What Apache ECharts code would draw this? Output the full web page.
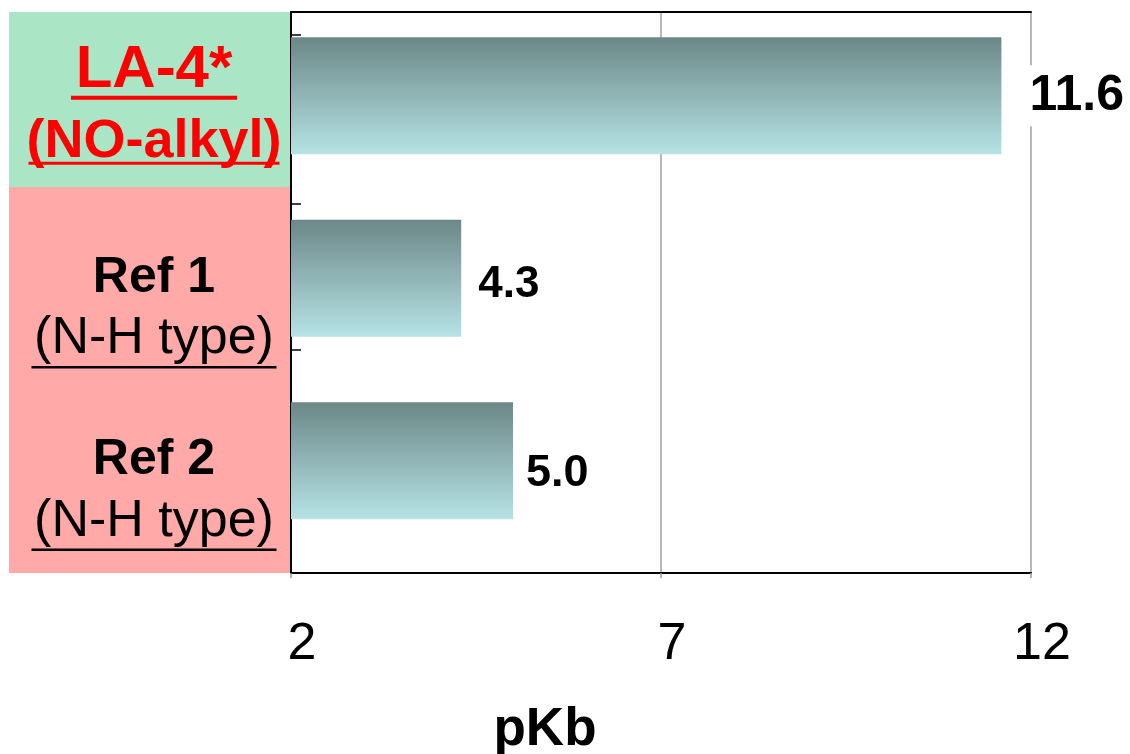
<!DOCTYPE html>
<html><head><meta charset="utf-8">
<script src="https://cdn.jsdelivr.net/npm/echarts@6/dist/echarts.min.js"></script>
<style>html,body{margin:0;padding:0;background:#fff}#c{width:1130px;height:754px}</style>
</head><body><div id="c"></div>
<script>
// ---- data ----
const compoundNames = ['LA-4*', 'Ref 1', 'Ref 2'];
const compoundTypes = ['(NO-alkyl)', '(N-H type)', '(N-H type)'];
const pKbValues = [11.6, 4.3, 5.0];
const xTickValues = [2, 7, 12];
const axisTitle = 'pKb';

// ---- layout / style ----
const FONT = '"Liberation Sans", Arial, sans-serif';
const X_MIN = 2, X_MAX = 12, X_STEP = 5;
const Y_MIN = -0.459, Y_MAX = 2.615;
const Y_TICKS = [-0.333, 0.593, 1.393];
const BAR_H = 117;
const VALUE_LABEL = [{size: 50, dx: 24, dy: 0}, {size: 44, dx: 13, dy: 7}, {size: 45, dx: 9, dy: 13}];
const GRID = {left: 291, top: 12, width: 740, height: 561};

const chart = echarts.init(document.getElementById('c'), null, {renderer: 'canvas'});
const seriesData = pKbValues.map((v, i) => [v, i]);

function labelFor(i) {
  if (i === 0) {
    return '{sp0| }\n{la|' + compoundNames[i] + '}\n{laU| }\n{sp1| }\n{nal|' + compoundTypes[i] + '}\n{nalU| }';
  }
  return '{spR| }\n{ref|' + compoundNames[i] + '}\n{nh|' + compoundTypes[i] + '}\n{nhU| }';
}

const option = {
  backgroundColor: '#ffffff',
  animation: false,
  grid: Object.assign({containLabel: false, outerBoundsMode: 'none'}, GRID),
  xAxis: [{
    type: 'value', min: X_MIN, max: X_MAX, interval: X_STEP, position: 'bottom',
    axisLine: {show: true, onZero: false, lineStyle: {color: '#000', width: 2}},
    axisTick: {show: true, length: 5, lineStyle: {color: '#999', width: 1.5}},
    splitLine: {show: true, lineStyle: {color: '#a0a0a0', width: 1.5}},
    axisLabel: {
      fontFamily: FONT, fontSize: 52, color: '#000', margin: 46, padding: [0, 0, 0, 22],
      hideOverlap: false,
      formatter: v => xTickValues.includes(v) ? String(v) : ''
    },
    name: axisTitle, nameLocation: 'middle', nameGap: 131,
    nameTextStyle: {fontFamily: FONT, fontSize: 53, fontWeight: 'bold', color: '#000', padding: [0, 232, 0, 0]}
  }, {
    type: 'value', min: X_MIN, max: X_MAX, interval: X_STEP, position: 'top',
    axisLine: {show: true, onZero: false, lineStyle: {color: '#000', width: 2}},
    axisTick: {show: false}, axisLabel: {show: false}, splitLine: {show: false}
  }],
  yAxis: {
    type: 'value', inverse: true, min: Y_MIN, max: Y_MAX,
    axisLine: {show: true, onZero: false, lineStyle: {color: '#000', width: 2}},
    axisTick: {show: true, inside: true, length: 10, customValues: Y_TICKS, lineStyle: {color: '#000', width: 1.5}},
    splitLine: {show: false},
    axisLabel: {
      customValues: [0, 1, 2], align: 'center', margin: 137, fontFamily: FONT,
      hideOverlap: false, showMinLabel: true, showMaxLabel: true,
      formatter: v => labelFor(Math.round(v)),
      rich: {
        sp0: {fontSize: 1, height: 18, lineHeight: 18},
        la: {fontFamily: FONT, fontSize: 60, fontWeight: 'bold', color: '#ff0000', lineHeight: 51},
        laU: {fontSize: 1, width: 166, height: 4, lineHeight: 4, backgroundColor: '#ff0000'},
        sp1: {fontSize: 1, height: 22, lineHeight: 22},
        nal: {fontFamily: FONT, fontSize: 54, fontWeight: 'bold', color: '#ff0000', lineHeight: 40},
        nalU: {fontSize: 1, width: 251, height: 3, lineHeight: 3, backgroundColor: '#ff0000'},
        spR: {fontSize: 1, height: 56, lineHeight: 56},
        ref: {fontFamily: FONT, fontSize: 50, fontWeight: 'bold', color: '#000', lineHeight: 68},
        nh: {fontFamily: FONT, fontSize: 52, color: '#000', lineHeight: 54},
        nhU: {fontSize: 1, width: 245, height: 2.5, lineHeight: 3, backgroundColor: '#000'}
      }
    }
  },
  series: [{
    type: 'custom',
    coordinateSystem: 'cartesian2d',
    xAxisIndex: 0, yAxisIndex: 0,
    encode: {x: 0, y: 1},
    data: seriesData,
    z: 3,
    renderItem: function (params, api) {
      const v = api.value(0), idx = api.value(1);
      const start = api.coord([X_MIN, idx]);
      const end = api.coord([v, idx]);
      const lab = VALUE_LABEL[params.dataIndex];
      return {
        type: 'group',
        children: [{
          type: 'rect',
          shape: {x: start[0], y: start[1] - BAR_H / 2, width: end[0] - start[0], height: BAR_H},
          style: {
            fill: new echarts.graphic.LinearGradient(0, 0, 0, 1, [
              {offset: 0, color: '#6c8787'},
              {offset: 1, color: '#b6e3e5'}
            ])
          }
        }, {
          type: 'text',
          x: end[0] + lab.dx, y: end[1] + lab.dy,
          style: {
            text: v.toFixed(1),
            font: 'bold ' + lab.size + 'px ' + FONT,
            fill: '#000', align: 'left', verticalAlign: 'middle',
            backgroundColor: '#ffffff', padding: [6, 4, 5, 4]
          }
        }]
      };
    }
  }]
};
chart.setOption(option);

// category background blocks, derived from the y scale
const yTop = chart.convertToPixel({yAxisIndex: 0}, Y_MIN);
const ySplit = chart.convertToPixel({yAxisIndex: 0}, 0.5);
const yBot = chart.convertToPixel({yAxisIndex: 0}, Y_MAX);
const xRight = chart.convertToPixel({xAxisIndex: 0}, X_MIN);
chart.setOption({
  graphic: [
    {type: 'rect', z: -1, shape: {x: 9, y: yTop, width: xRight - 9, height: ySplit - yTop}, style: {fill: '#aae5c5'}},
    {type: 'rect', z: -1, shape: {x: 9, y: ySplit, width: xRight - 9, height: yBot - ySplit}, style: {fill: '#ffa9a8'}}
  ]
});
</script></body></html>
